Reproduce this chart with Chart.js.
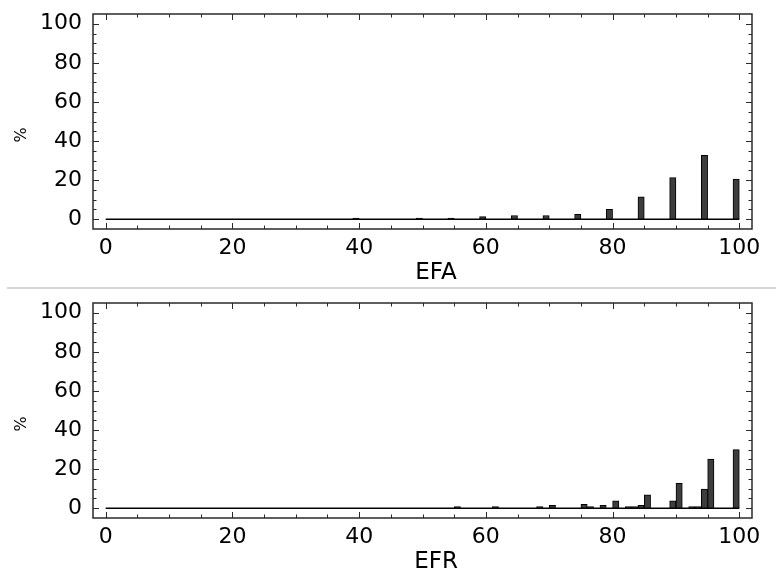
<!DOCTYPE html>
<html lang="en">
<head>
<meta charset="UTF-8">
<title>EFA / EFR</title>
<script src="https://cdn.jsdelivr.net/npm/chart.js@4"></script>
<style>
    body { margin: 0; background: #fff; }
    .panel { position: absolute; left: 0; width: 776px; height: 288px; }
    #top { top: 0; }
    #bottom { top: 289px; }
    .sep { position: absolute; left: 7px; right: 0; top: 287px; height: 2px; background: #d6d6d6; }
</style>
</head>
<body>
<div class="panel" id="top"><canvas id="efaChart" width="776" height="288"></canvas></div>
<div class="sep"></div>
<div class="panel" id="bottom"><canvas id="efrChart" width="776" height="288"></canvas></div>

<script>
// bins are 1 unit wide, given by their start value; values in %
const efaBins = [39, 49, 54, 59, 64, 69, 74, 79, 84, 89, 94, 99];
const efaValues = [0.6, 0.6, 0.6, 1.3, 1.9, 1.9, 2.5, 5, 11.5, 21.3, 32.7, 20.6];

const efrBins = [55, 61, 68, 70, 75, 76, 78, 80, 82, 83, 84, 85, 89, 90, 92, 93, 94, 95, 99];
const efrValues = [0.8, 0.8, 0.8, 1.5, 2, 0.8, 1.5, 3.8, 0.8, 0.8, 1.5, 6.8, 3.8, 12.8, 0.8, 0.8, 9.8, 25.2, 30];

const xTicks = [0, 20, 40, 60, 80, 100];
const yTicks = [0, 20, 40, 60, 80, 100];
const baseRange = [0, 100];

const FONT = 'DejaVu Sans';

// box around the plot, inward ticks, axis titles
const framePlugin = {
    id: 'frame',
    afterDraw(chart, args, opts) {
        const { ctx, chartArea: a, scales: { x, y } } = chart;
        ctx.save();
        ctx.strokeStyle = '#2a2a2a';
        ctx.lineWidth = 1.5;
        ctx.strokeRect(a.left, a.top, a.right - a.left, a.bottom - a.top);
        ctx.lineWidth = 1;
        ctx.beginPath();
        for (let v = 0; v <= 100; v += 5) {
            const len = v % 20 === 0 ? 6 : 3.5;
            const px = Math.round(x.getPixelForValue(v)) + 0.5;
            const py = Math.round(y.getPixelForValue(v)) + 0.5;
            ctx.moveTo(px, a.bottom); ctx.lineTo(px, a.bottom - len);
            ctx.moveTo(px, a.top); ctx.lineTo(px, a.top + len);
            ctx.moveTo(a.left, py); ctx.lineTo(a.left + len, py);
            ctx.moveTo(a.right, py); ctx.lineTo(a.right - len, py);
        }
        ctx.stroke();

        ctx.fillStyle = '#000';
        ctx.textAlign = 'center';
        ctx.textBaseline = 'middle';
        ctx.font = '23px "' + FONT + '"';
        ctx.fillText(opts.xTitle, 436, 273);
        ctx.translate(22, 135);
        ctx.rotate(-Math.PI / 2);
        ctx.font = '16px "' + FONT + '"';
        ctx.fillText('%', 0, 0);
        ctx.restore();
    }
};

function makeChart(id, bins, values, title) {
    const ctx = document.getElementById(id).getContext('2d');
    return new Chart(ctx, {
        type: 'bar',
        data: {
            datasets: [
                {
                    type: 'line',
                    data: baseRange.map(v => ({ x: v, y: 0 })),
                    borderColor: '#000',
                    borderWidth: 1.5,
                    pointRadius: 0,
                    order: 0
                },
                {
                    data: bins.map((b, i) => ({ x: b + 0.5, y: values[i] })),
                    backgroundColor: '#3d3d3d',
                    borderColor: '#000',
                    borderWidth: 1,
                    barThickness: 6.3,
                    order: 1
                }
            ]
        },
        options: {
            responsive: false,
            animation: false,
            layout: { padding: { top: 14, right: 24, left: 0, bottom: 0 } },
            plugins: {
                legend: { display: false },
                tooltip: { enabled: false },
                frame: { xTitle: title }
            },
            scales: {
                x: {
                    type: 'linear',
                    offset: false,
                    min: -2,
                    max: 102,
                    grid: { display: false, drawTicks: false },
                    border: { display: false },
                    afterBuildTicks: s => { s.ticks = xTicks.map(v => ({ value: v })); },
                    afterFit: s => { s.height = 59; s.paddingLeft = 0; s.paddingRight = 0; },
                    ticks: { font: { family: FONT, size: 22 }, color: '#000', padding: 6, maxRotation: 0, autoSkip: false }
                },
                y: {
                    min: -5,
                    max: 105,
                    grid: { display: false, drawTicks: false },
                    border: { display: false },
                    afterBuildTicks: s => { s.ticks = yTicks.map(v => ({ value: v })); },
                    afterFit: s => { s.width = 93; s.paddingTop = 0; s.paddingBottom = 0; },
                    ticks: { font: { family: FONT, size: 22 }, color: '#000', padding: 11 }
                }
            }
        },
        plugins: [framePlugin]
    });
}

makeChart('efaChart', efaBins, efaValues, 'EFA');
makeChart('efrChart', efrBins, efrValues, 'EFR');
</script>
</body>
</html>
